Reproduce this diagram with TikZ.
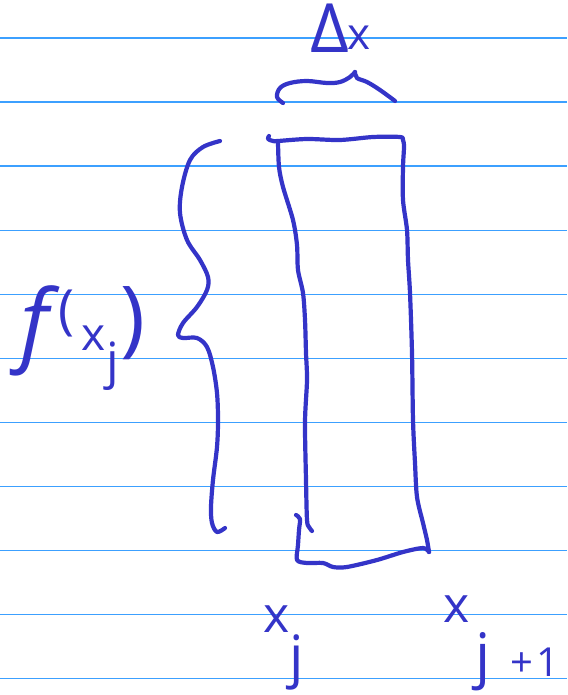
\documentclass[tikz,border=0pt]{standalone}
\usepackage{fontspec}
\setmainfont{Open Sans}
\newcommand\hfs[1]{\fontsize{#1}{#1}\selectfont}
\definecolor{ink}{RGB}{52,52,200}
\definecolor{rule}{RGB}{60,160,255}
\begin{document}
\begin{tikzpicture}[x=1pt,y=-1pt,
  pen/.style={draw=ink,line width=4.2pt,line cap=round,line join=round},
  ruleline/.style={draw=rule,line width=1.6pt},
  handtext/.style={text=ink,inner sep=0pt,outer sep=0pt,anchor=base west}]
\useasboundingbox[fill=white] (0,0) rectangle (567,695);
% ruled lines
\foreach \k in {0,...,10}{
  \draw[ruleline] (0,{38.3+64*\k}) -- (567,{38.3+64*\k});
}
% brace above the rectangle
\draw[pen] plot[smooth,tension=0.6] coordinates {(283,103) (277,97) (280,88) (290,83) (307,81) (327,83) (340,82) (350,77) (355,72)};
\draw[pen] plot[smooth,tension=0.6] coordinates {(355,72) (357,78) (367,82) (380,90) (395,101)};
% rectangle: top hook, top edge, right side
\draw[pen] plot[smooth,tension=0.5] coordinates {(269,136) (268,139) (273,141) (278,141) (307,139) (340,140) (373,137) (400,137) (403,140) (404,147) (403,167) (403,200) (407,230) (408,260) (410,293) (412,353) (413,420) (415,463) (417,497) (423,523) (427,540) (429,552)};
% rectangle: left side
\draw[pen] plot[smooth,tension=0.5] coordinates {(278,142) (279,167) (283,187) (293,220) (297,245) (298,270) (303,293) (305,320) (306,353) (307,380) (305,422) (306,480) (307,520) (309,527) (312,531)};
% rectangle: bottom
\draw[pen] plot[smooth,tension=0.5] coordinates {(296,515) (300,519) (299,530) (298,545) (297,560) (307,563) (323,563) (333,567) (347,567) (377,560) (403,552) (423,548) (429,552)};
% left brace
\draw[pen] plot[smooth,tension=0.55] coordinates {(220,141) (203,147) (190,160) (182,187) (180,213) (187,240) (200,260) (208,277) (207,290) (197,307) (183,323) (178,335) (183,338) (197,338) (207,347) (213,367) (217,393) (218,420) (217,447) (213,480) (211,507) (212,523) (217,532) (225,528)};
% labels
\node[handtext] (dx) at (310,53) {\hfs{68}Δ\kern-1pt\raisebox{3pt}{\hfs{44}x}};
\node[handtext] (fx) at (20,354) {{\hfs{90}\itshape f}\kern10pt\raisebox{26pt}{\hfs{54}(}\kern7pt\raisebox{4pt}{\hfs{46}x}\kern1pt\raisebox{-24pt}{\hfs{50}j}\kern2pt\raisebox{8pt}{\hfs{84})}};
\node[handtext] (xj) at (263,632) {{\hfs{50}x}\raisebox{-44pt}{\hfs{57}j}};
\node[handtext] (xj1) at (443,622) {{\hfs{50}x}\kern6pt\raisebox{-54pt}{{\hfs{60}j}\kern20pt{\hfs{40}+}\kern3pt{\hfs{40}1}}};
\end{tikzpicture}
\end{document}
